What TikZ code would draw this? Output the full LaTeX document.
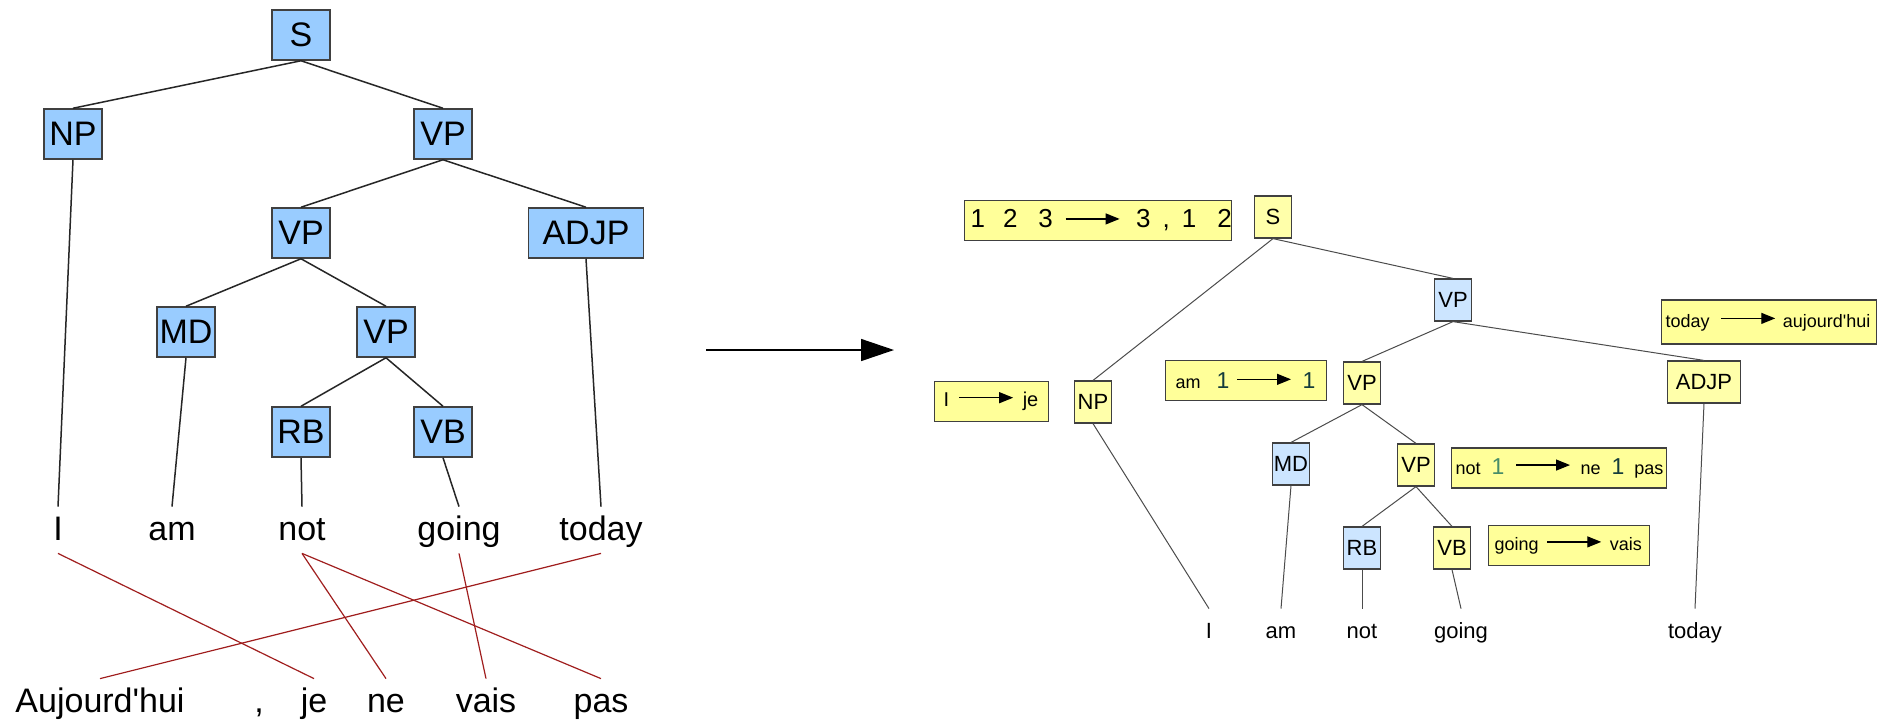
\documentclass[tikz,border=0pt]{standalone}
\usepackage{fontspec}
\setmainfont{Liberation Sans}[Ligatures=TeXOff]
\usetikzlibrary{arrows.meta}

\definecolor{treeblue}{RGB}{153,204,255}
\definecolor{paleblue}{RGB}{204,229,255}
\definecolor{paleyellow}{RGB}{255,255,170}
\definecolor{ruleyellow}{RGB}{255,255,153}
\definecolor{boxline}{RGB}{64,64,64}
\definecolor{linkred}{RGB}{160,30,30}
\definecolor{onegreen}{RGB}{70,140,105}
\definecolor{oneteal}{RGB}{20,60,60}

% small arrow inside the rule boxes
\newcommand{\maparrow}{\tikz[baseline=0pt]\draw[black, line width=0.6pt, -{Triangle[length=7pt,width=5.5pt]}] (0pt,4.5pt) -- (27pt,4.5pt);}

\begin{document}
\begin{tikzpicture}[x = 0.5pt, y = -0.5pt,
	cat/.style = {draw = boxline, line width = 0.75pt, fill = treeblue, minimum width = 29pt, minimum height = 25pt, inner sep = 0pt, font = \fontsize{17}{20}\selectfont},
	word/.style = {anchor = base, inner xsep = 1pt, inner ysep = 4pt, text height = 12.5pt, text depth = 2.5pt, font = \fontsize{17}{20}\selectfont},
	rcat/.style = {draw = boxline, line width = 0.6pt, fill = paleyellow, minimum width = 18.5pt, minimum height = 21pt, inner sep = 0pt, font = \fontsize{11}{13}\selectfont},
	rword/.style = {anchor = base, inner xsep = 1pt, inner ysep = 6pt, text height = 8.5pt, text depth = 2pt, font = \fontsize{11}{13}\selectfont},
	rulebox/.style = {draw = boxline, line width = 0.6pt, fill = ruleyellow, inner sep = 0pt, anchor = west, minimum height = 20pt, font = \fontsize{9}{11}\selectfont},
	tie/.style = {black!85, line width = 0.75pt},
	rtie/.style = {black!70, line width = 0.5pt},
	link/.style = {linkred, line width = 0.6pt}]
	%	canvas
	\path[fill = white] (0, 0) rectangle (1884, 720);
	\useasboundingbox (0, 0) rectangle (1884, 720);
	
	\def\num{\fontsize{11.5}{13}\selectfont}
	
	%	left tree
	\node[cat] (S) at (301, 35) {S};
	\node[cat] (NP) at (73, 134) {NP};
	\node[cat] (VP) at (443, 134) {VP};
	\node[cat] (VPa) at (301, 233) {VP};
	\node[cat, minimum width = 57.5pt] (ADJP) at (586, 233) {ADJP};
	\node[cat] (MD) at (186, 332) {MD};
	\node[cat] (VPb) at (386, 332) {VP};
	\node[cat] (RB) at (301, 432) {RB};
	\node[cat] (VB) at (443, 432) {VB};
	
	%	english words
	\def\eny{540}
	\node[word] (I) at (58, \eny) {I};
	\node[word] (am) at (172, \eny) {am};
	\node[word] (not) at (302, \eny) {not};
	\node[word] (going) at (459, \eny) {going};
	\node[word] (today) at (601, \eny) {today};
	
	%	french words
	\def\fry{712}
	\node[word] (auj) at (100, \fry) {Aujourd'hui};
	\node[word] (comma) at (259, \fry) {,};
	\node[word] (je) at (314, \fry) {je};
	\node[word] (ne) at (386, \fry) {ne};
	\node[word] (vais) at (486, \fry) {vais};
	\node[word] (pas) at (601, \fry) {pas};
	
	\draw[tie] (S.south) -- (NP.north);
	\draw[tie] (S.south) -- (VP.north);
	\draw[tie] (VP.south) -- (VPa.north);
	\draw[tie] (VP.south) -- (ADJP.north);
	\draw[tie] (VPa.south) -- (MD.north);
	\draw[tie] (VPa.south) -- (VPb.north);
	\draw[tie] (VPb.south) -- (RB.north);
	\draw[tie] (VPb.south) -- (VB.north);
	\draw[tie] (NP.south) -- (I.north);
	\draw[tie] (MD.south) -- (am.north);
	\draw[tie] (RB.south) -- (not.north);
	\draw[tie] (VB.south) -- (going.north);
	\draw[tie] (ADJP.south) -- (today.north);
	
	%	alignment
	\draw[link] (I.south) -- (je.north);
	\draw[link] (not.south) -- (ne.north);
	\draw[link] (not.south) -- (pas.north);
	\draw[link] (going.south) -- (vais.north);
	\draw[link] (today.south) -- (auj.north);
	
	%	big arrow
	\coordinate (mapfrom) at (706, 350);
	\coordinate (mapto) at (894, 350);
	\draw[black, line width = 0.75pt, -{Triangle[length = 16.5pt, width = 11pt]}] (mapfrom) -- (mapto);
	
	%	right tree
	\node[rcat] (rS) at (1273, 217) {S};
	\node[rcat, fill = paleblue] (rVP) at (1453, 300) {VP};
	\node[rcat] (rNP) at (1093, 402) {NP};
	\node[rcat] (rVPa) at (1362, 383) {VP};
	\node[rcat, minimum width = 36.5pt] (rADJP) at (1704, 382) {ADJP};
	\node[rcat, fill = paleblue] (rMD) at (1291, 464) {MD};
	\node[rcat] (rVPb) at (1416, 465) {VP};
	\node[rcat, fill = paleblue] (rRB) at (1362, 548) {RB};
	\node[rcat] (rVB) at (1452, 548) {VB};
	
	\def\rwy{638}
	\node[rword] (rI) at (1209, \rwy) {I};
	\node[rword] (ram) at (1281, \rwy) {am};
	\node[rword] (rnot) at (1362, \rwy) {not};
	\node[rword] (rgoing) at (1461, \rwy) {going};
	\node[rword] (rtoday) at (1695, \rwy) {today};
	
	\draw[rtie] (rS.south) -- (rNP.north);
	\draw[rtie] (rS.south) -- (rVP.north);
	\draw[rtie] (rVP.south) -- (rVPa.north);
	\draw[rtie] (rVP.south) -- (rADJP.north);
	\draw[rtie] (rVPa.south) -- (rMD.north);
	\draw[rtie] (rVPa.south) -- (rVPb.north);
	\draw[rtie] (rVPb.south) -- (rRB.north);
	\draw[rtie] (rVPb.south) -- (rVB.north);
	\draw[rtie] (rNP.south) -- (rI.north);
	\draw[rtie] (rMD.south) -- (ram.north);
	\draw[rtie] (rRB.south) -- (rnot.north);
	\draw[rtie] (rVB.south) -- (rgoing.north);
	\draw[rtie] (rADJP.south) -- (rtoday.north);
	
	%	rules
	\node[rulebox] (rule123) at (964, 220.5) {\makebox[133.5pt][l]{\fontsize{13}{15}\selectfont\hspace{3pt}1\hspace{9pt}2\hspace{10.5pt}3\hspace{6pt}\maparrow\hspace{8pt}3\hspace{6pt},\hspace{6pt}1\hspace{10.5pt}2}};
	\node[rulebox] (ruleI) at (934, 401.5) {\makebox[57pt][l]{\fontsize{10}{12}\selectfont\hspace{4.5pt}I\hspace{4.7pt}\maparrow\hspace{4.5pt}je}};
	\node[rulebox] (ruleam) at (1165, 380.5) {\makebox[80.5pt][l]{\hspace{5pt}am\hspace{8pt}{\num\color{oneteal}1}\hspace{3.5pt}\maparrow\hspace{5.5pt}{\num\color{oneteal}1}}};
	\node[rulebox, minimum height = 22pt] (ruletoday) at (1661, 322) {\makebox[107.5pt][l]{\hspace{2pt}today\hspace{5.5pt}\maparrow\hspace{3.5pt}aujourd'hui}};
	\node[rulebox] (rulenot) at (1451, 468) {\makebox[107.5pt][l]{\hspace{2pt}not\hspace{5.5pt}{\num\color{onegreen}1}\hspace{5.5pt}\maparrow\hspace{5pt}ne\hspace{5.5pt}{\num\color{oneteal}1}\hspace{5pt}pas}};
	\node[rulebox] (rulegoing) at (1488, 545.5) {\makebox[80.5pt][l]{\hspace{3pt}going\hspace{4pt}\maparrow\hspace{4pt}vais}};
\end{tikzpicture}
\end{document}
